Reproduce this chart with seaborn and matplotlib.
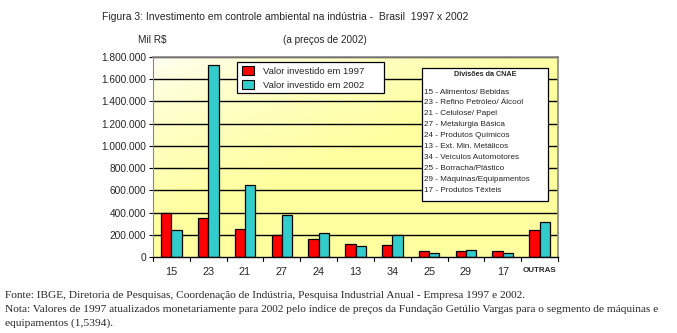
import numpy as np
import pandas as pd
import matplotlib
matplotlib.use("Agg")
import matplotlib.pyplot as plt
import seaborn as sns
from matplotlib.patches import Patch

categories = ["15", "23", "21", "27", "24", "13", "34", "25", "29", "17", "OUTRAS"]
v1997 = [400000, 355000, 256000, 196000, 166000, 120000, 111000, 57000, 57000, 57000, 247000]
v2002 = [247000, 1731000, 644000, 382000, 220000, 102000, 196000, 39000, 66000, 39000, 319000]
series = ["Valor investido em 1997", "Valor investido em 2002"]
yticks = [0, 200000, 400000, 600000, 800000, 1000000, 1200000, 1400000, 1600000, 1800000]
cnae_lines = ["15 - Alimentos/ Bebidas", "23 - Refino Petróleo/ Álcool", "21 - Celulose/ Papel",
              "27 - Metalurgia Básica", "24 - Produtos Químicos", "13 - Ext. Min. Metálicos",
              "34 - Veículos Automotores", "25 - Borracha/Plástico", "29 - Máquinas/Equipamentos",
              "17 - Produtos Têxteis"]

df = pd.DataFrame({
    "cat": categories * 2,
    "valor": v1997 + v2002,
    "serie": [series[0]] * len(categories) + [series[1]] * len(categories),
})

sns.set_theme(style="white")
plt.rcParams["font.family"] = ["Liberation Sans", "DejaVu Sans"]

fig = plt.figure(figsize=(6.77, 3.33), dpi=100)
ax = fig.add_axes([153/677, 1-257/333, (558-153)/677, 200/333])

# gradient background (white at top-left to pale yellow)
nx, ny = 200, 100
xx, yy = np.meshgrid(np.linspace(0, 1, nx), np.linspace(0, 1, ny))
t = np.clip((xx * 1.0 + yy * 1.3) / 1.1, 0, 1) ** 0.7
white = np.array([1.0, 1.0, 0.97])
yellow = np.array([1.0, 1.0, 0.63])
img = white[None, None, :] * (1 - t[..., None]) + yellow[None, None, :] * t[..., None]
ax.imshow(img, extent=[0, 1, 0, 1], transform=ax.transAxes, aspect="auto", zorder=0, origin="upper")

for yv in yticks[1:]:
    ax.axhline(yv, color="black", lw=1.0, zorder=1)

sns.barplot(data=df, x="cat", y="valor", hue="serie", palette=["#FF0000", "#33CCCC"],
            edgecolor="black", linewidth=0.9, width=0.56, gap=0, saturation=1,
            ax=ax, zorder=2, legend=False)

ax.set_ylim(0, 1800000)
ax.set_xlim(-0.5, len(categories) - 0.5)
ax.set_yticks(yticks)
ax.set_yticklabels([f"{v:,}".replace(",", ".") for v in yticks], fontsize=7.3)
ax.set_xticks(range(len(categories)))
ax.set_xticklabels(categories, fontsize=7.8)
for lbl in ax.get_xticklabels():
    if lbl.get_text() == "OUTRAS":
        lbl.set_fontsize(5.8)
        lbl.set_fontweight("bold")
ax.tick_params(axis="x", length=0, pad=7)
ax.tick_params(axis="y", length=3, left=True, width=0.8, pad=2, color="black")
ax.set_xlabel("")
ax.set_ylabel("")
for i in range(len(categories) + 1):
    ax.plot([i - 0.5, i - 0.5], [0, -0.018], transform=ax.get_xaxis_transform(),
            color="black", lw=0.8, clip_on=False)

for s in ["top", "right"]:
    ax.spines[s].set_color("#888888")
    ax.spines[s].set_linewidth(1.2)
ax.spines["left"].set_color("#888888")
ax.spines["left"].set_linewidth(0.8)
ax.spines["bottom"].set_color("black")
ax.spines["bottom"].set_linewidth(1.0)

# legend box (frame drawn separately to match the wide reference box)
lx0, ly0, lx1, ly1 = 237, 62, 384, 93
lbox = plt.Rectangle((lx0/677, 1-ly1/333), (lx1-lx0)/677, (ly1-ly0)/333, transform=fig.transFigure,
                     facecolor="white", edgecolor="black", lw=0.9, zorder=6)
fig.add_artist(lbox)
handles = [Patch(facecolor="#FF0000", edgecolor="black", lw=0.8),
           Patch(facecolor="#33CCCC", edgecolor="black", lw=0.8)]
leg = fig.legend(handles, series, loc="upper left", bbox_to_anchor=((lx0+3)/677, 1-(ly0+2)/333),
                 frameon=False, fontsize=6.8, handlelength=1.3, handleheight=1.1,
                 borderpad=0.2, labelspacing=0.5, handletextpad=0.9, borderaxespad=0)
leg.set_zorder(7)

# CNAE box
bx0, by0, bx1, by1 = 422, 68, 548, 201
box = plt.Rectangle((bx0/677, 1-by1/333), (bx1-bx0)/677, (by1-by0)/333, transform=fig.transFigure,
                    facecolor="white", edgecolor="black", lw=0.9, zorder=6)
fig.add_artist(box)
fig.text((bx0+bx1)/2/677, 1-75/333, "Divisões da CNAE", ha="center", va="center",
         fontsize=5.2, fontweight="bold", zorder=7)
for i, line in enumerate(cnae_lines):
    fig.text((bx0+2)/677, 1-(92+i*10.9)/333, line, ha="left", va="center", fontsize=5.9, zorder=7)

fig.text(102/677, 1-17/333, "Figura 3: Investimento em controle ambiental na indústria -  Brasil  1997 x 2002",
         ha="left", va="center", fontsize=7.5)
fig.text(138/677, 1-40/333, "Mil R$", ha="left", va="center", fontsize=7.2)
fig.text(283/677, 1-40/333, "(a preços de 2002)", ha="left", va="center", fontsize=7.2)

serif = ["Liberation Serif", "DejaVu Serif"]
fs = 8.2
fig.text(5/677, 1-296/333, "Fonte: IBGE, Diretoria de Pesquisas, Coordenação de Indústria, Pesquisa Industrial Anual - Empresa 1997 e 2002.",
         ha="left", va="center", fontsize=fs, family=serif)
fig.text(5/677, 1-310/333, "Nota: Valores de 1997 atualizados monetariamente para 2002 pelo índice de preços da Fundação Getúlio Vargas para o segmento de máquinas e",
         ha="left", va="center", fontsize=fs, family=serif)
fig.text(5/677, 1-323/333, "equipamentos (1,5394).", ha="left", va="center", fontsize=fs, family=serif)

fig.savefig("out.png", dpi=100, facecolor="white")
